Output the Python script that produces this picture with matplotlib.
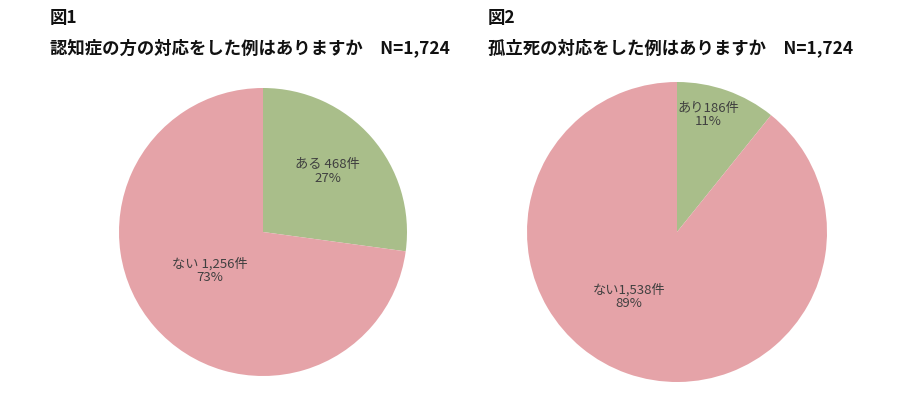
import matplotlib.pyplot as plt

plt.rcParams['font.family'] = ['Noto Sans CJK JP', 'DejaVu Sans']

# data
fig_titles = ['図1', '図2']
questions = ['認知症の方の対応をした例はありますか　N=1,724',
             '孤立死の対応をした例はありますか　N=1,724']
counts1 = [468, 1256]
counts2 = [186, 1538]
labels1 = ['ある 468件\n27%', 'ない 1,256件\n73%']
labels2 = ['あり186件\n11%', 'ない1,538件\n89%']

colors = ['#a9be8a', '#e5a3a8']

fig = plt.figure(figsize=(8.97, 3.93), dpi=100)
W, H = 897, 393

def draw_pie(cx, cy, r, counts, labels, label_pos):
    ax = fig.add_axes([(cx - r) / W, (H - cy - r) / H, 2 * r / W, 2 * r / H])
    ax.pie(counts, colors=colors, startangle=90, counterclock=False,
           radius=1, wedgeprops=dict(linewidth=0))
    ax.set_xlim(-1, 1)
    ax.set_ylim(-1, 1)
    ax.set_aspect('equal')
    ax.axis('off')
    for lab, (x, y) in zip(labels, label_pos):
        ax.text(x, y, lab, ha='center', va='center', fontsize=9.5,
                color='#404040', linespacing=1.05)

draw_pie(263, 232, 144, counts1, labels1, [(0.45, 0.42), (-0.37, -0.27)])
draw_pie(677, 232, 150, counts2, labels2, [(0.21, 0.78), (-0.32, -0.43)])

for x0, ft, q in [(50, fig_titles[0], questions[0]), (488, fig_titles[1], questions[1])]:
    fig.text(x0 / W, 1 - 18 / H, ft, fontsize=12.5, fontweight='bold',
             ha='left', va='center', color='#111111')
    fig.text(x0 / W, 1 - 48 / H, q, fontsize=12.5, fontweight='bold',
             ha='left', va='center', color='#111111')

fig.savefig('out.png', dpi=100, facecolor='white')
